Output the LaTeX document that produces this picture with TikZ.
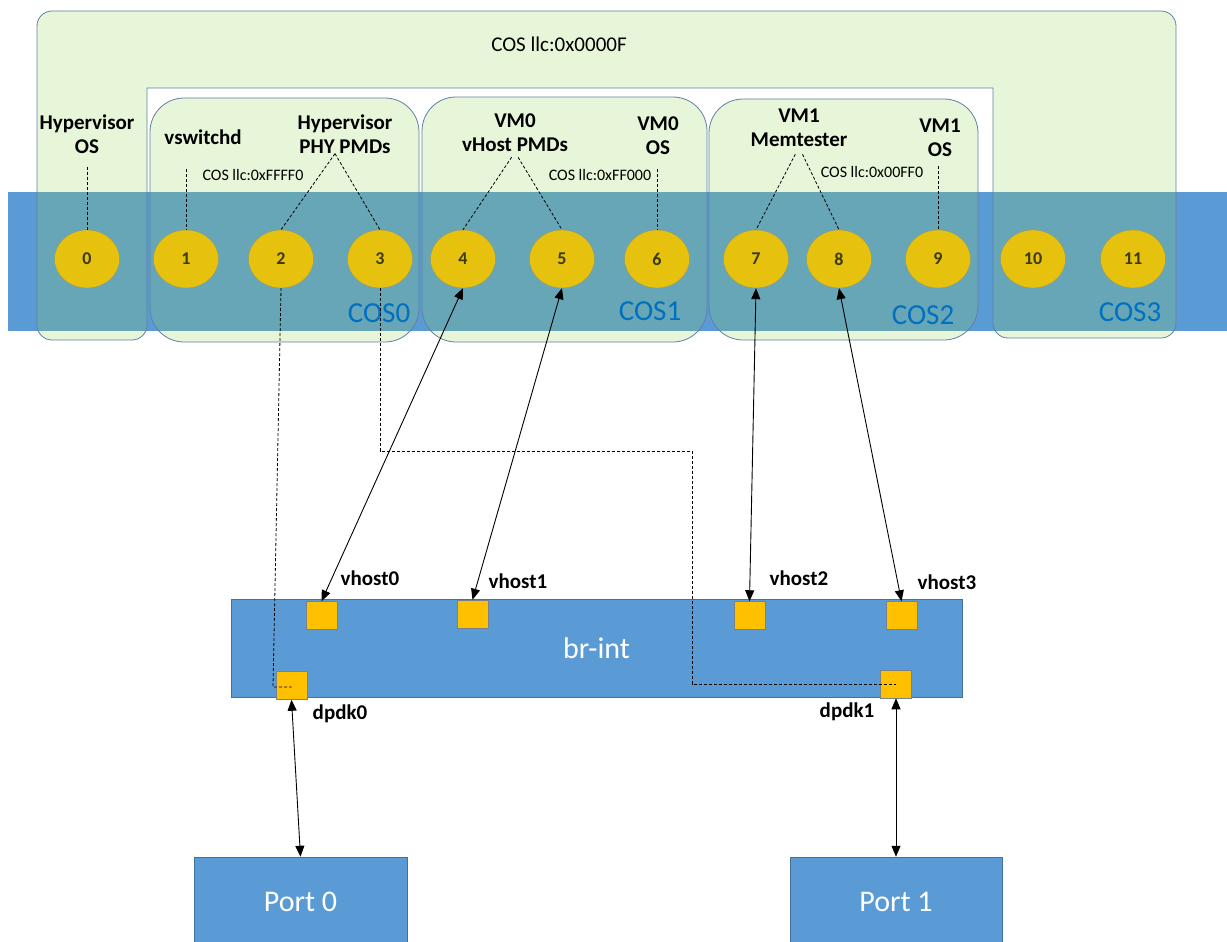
\documentclass[tikz,border=0pt]{standalone}
\usepackage{fontspec}
\setmainfont{Carlito}
\usetikzlibrary{arrows.meta,shapes.geometric}
\definecolor{bandblue}{RGB}{91,155,213}
\definecolor{boxline}{RGB}{65,113,156}
\definecolor{cosgreen}{RGB}{146,208,80}
\definecolor{cosline}{RGB}{96,128,168}
\definecolor{coreyellow}{RGB}{230,193,14}
\definecolor{corenum}{RGB}{58,58,10}
\definecolor{portyellow}{RGB}{255,192,0}
\definecolor{portline}{RGB}{120,130,140}
\definecolor{coslblue}{RGB}{0,112,192}
\begin{document}
\begin{tikzpicture}[
        x=1pt, y=-1pt,
        cosbox/.style={draw=cosline, line width=0.8pt, fill=cosgreen, fill opacity=0.22},
        core/.style={ellipse, fill=coreyellow, draw=cosline!60!coreyellow, line width=0.4pt,
                minimum width=65pt, minimum height=58pt, inner sep=0pt,
                text=corenum, font=\bfseries\fontsize{18}{18}\selectfont}
    ]
    \tikzset  {
        lbl/.style = {align=center, inner sep=0pt, font=\bfseries\fontsize{21}{24}\selectfont},
        llc/.style = {inner sep=0pt, font=\fontsize{16}{16}\selectfont},
        coslbl/.style = {inner sep=0pt, text=coslblue, font=\fontsize{29}{29}\selectfont},
        bluebox/.style = {fill=bandblue, draw=boxline, line width=0.5pt, inner sep=0pt,
                text=white, font=\fontsize{30}{30}\selectfont},
        port/.style = {fill=portyellow, draw=portline, line width=0.5pt,
                minimum width=31pt, minimum height=28pt, inner sep=0pt},
        guide/.style = {densely dashed, line width=0.8pt},
        link/.style = {{Triangle[length=11pt,width=9pt]}-{Triangle[length=11pt,width=9pt]}, line width=0.9pt},
    }
    \useasboundingbox (0,0) rectangle (1227,942);
    \fill[bandblue] (8,192) rectangle (1227,331);
    \draw[cosbox] (147,88) [rounded corners=15pt] -- (147,340) -- (37,340) -- (37,11) -- (1176,11)
        -- (1176,338) -- (993,338) [sharp corners] -- (993,88) -- cycle;
    \draw[cosbox, rounded corners=34pt] (150,98) rectangle (419,342);
    \draw[cosbox, rounded corners=34pt] (422,97) rectangle (707,342);
    \draw[cosbox, rounded corners=34pt] (709,99) rectangle (978,340);
    \foreach \i/\x in {0/87,1/186,2/281,3/380,4/463,5/562,6/657,7/756,8/839,9/938,10/1033,11/1133}
    \node [core] (c\i) at (\x,259) {\i};
    \node [llc, font=\fontsize{21}{21}\selectfont] (llc3) at (559,44) {COS llc:0x0000F};
    \node [llc] (llc0) at (253,175) {COS llc:0xFFFF0};
    \node [llc] (llc1) at (600,175) {COS llc:0xFF000};
    \node [llc] (llc2) at (872,172) {COS llc:0x00FF0};
    \node [coslbl] (cos0) at (379,313) {COS0};
    \node [coslbl] (cos1) at (650,311) {COS1};
    \node [coslbl] (cos2) at (923,315) {COS2};
    \node [coslbl] (cos3) at (1130,312) {COS3};
    \node [lbl] (hypos) at (87,134) {Hypervisor\\OS};
    \node [lbl] (vswitchd) at (203,137) {vswitchd};
    \node [lbl] (phypmd) at (345,134) {Hypervisor\\PHY PMDs};
    \node [lbl] (vhostpmd) at (515,133) {VM0\\vHost PMDs};
    \node [lbl] (vm0os) at (658,136) {VM0\\OS};
    \node [lbl] (memtester) at (799,128) {VM1\\Memtester};
    \node [lbl] (vm1os) at (940,138) {VM1\\OS};
    \draw[guide, shorten <=13pt] (hypos.south) -- (c0.north);
    \draw[guide] (c1.north |- llc0.north) -- (c1.north);
    \draw[guide] ([xshift=-10pt]phypmd.south) -- (c2.north);
    \draw[guide] ([xshift=-10pt]phypmd.south) -- (c3.north);
    \draw[guide, shorten <=6pt] (vhostpmd.south) -- (c4.north);
    \draw[guide, shorten <=6pt] (vhostpmd.south) -- (c5.north);
    \draw[guide] (c6.north |- llc1.north) -- (c6.north);
    \draw[guide, shorten <=8pt] (memtester.south) -- (c7.north);
    \draw[guide, shorten <=8pt] (memtester.south) -- (c8.north);
    \draw[guide] (c9.north |- llc2.north) -- (c9.north);
    \node [bluebox, minimum width=731pt, minimum height=98pt] (brint) at (596.5,648) {br-int};
    \node [bluebox, minimum width=213pt, minimum height=90pt] (port0) at (300.5,902) {Port 0};
    \node [bluebox, minimum width=212pt, minimum height=90pt] (port1) at (896,902) {Port 1};
    \node [port] (vh0) at (321.5,615.5) {};
    \node [port] (vh1) at (472.5,614) {};
    \node [port] (vh2) at (749.5,615.5) {};
    \node [port] (vh3) at (901.5,615.5) {};
    \node [port] (dpdk0) at (291.5,685.5) {};
    \node [port] (dpdk1) at (896,684) {};
    \node [lbl] (vh0lbl) at (370,578) {vhost0};
    \node [lbl] (vh1lbl) at (518,581) {vhost1};
    \node [lbl] (vh2lbl) at (799,578) {vhost2};
    \node [lbl] (vh3lbl) at (947,582) {vhost3};
    \node [lbl] (dpdk0lbl) at (340,714) {dpdk0};
    \node [lbl] (dpdk1lbl) at (847,712) {dpdk1};
    \coordinate (bend0) at (273,687);
    \coordinate (bend1) at (692,451);
    \draw[guide] (c2.south) -- (bend0) -- (bend0 -| dpdk0);
    \draw[guide] (c3.south) -- (c3.south |- bend1) -- (bend1) -- (bend1 |- dpdk1) -- (dpdk1.center);
    \draw[link] (c4.south) -- (vh0.north);
    \draw[link] (c5.south) -- (vh1.north);
    \draw[link] (c7.south) -- (vh2.north);
    \draw[link] (c8.south) -- (vh3.north);
    \draw[link] (dpdk0.south) -- (port0.north);
    \draw[link] (dpdk1.south) -- (port1.north);
\end{tikzpicture}
\end{document}
